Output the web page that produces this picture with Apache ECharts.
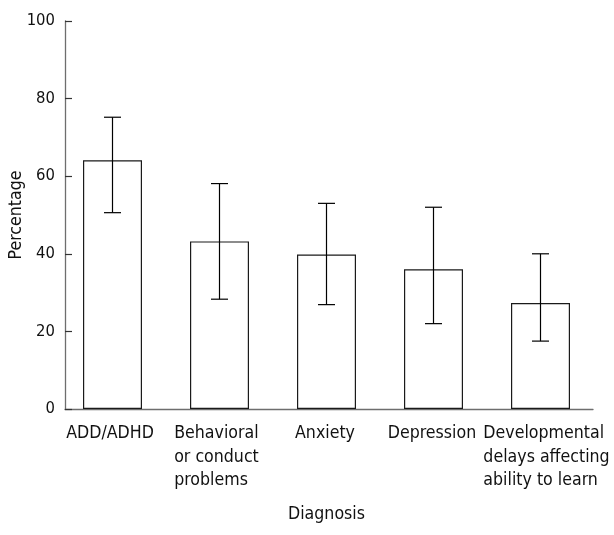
<!DOCTYPE html>
<html>
<head>
<meta charset="utf-8">
<script src="https://cdn.jsdelivr.net/npm/echarts@6/dist/echarts.min.js"></script>
<style>
html,body{margin:0;padding:0;background:#fff;}
#chart{width:614px;height:535px;}
</style>
</head>
<body>
<div id="chart"></div>
<script>
const categories = ['ADD/ADHD', 'Behavioral\nor conduct\nproblems', 'Anxiety', 'Depression', 'Developmental\ndelays affecting\nability to learn'];
const values = [64.1, 43.2, 39.8, 36.0, 27.3];
const errLow = [50.6, 28.3, 26.9, 22.0, 17.5];
const errHigh = [75.2, 58.1, 53.0, 52.0, 40.0];
const yMin = 0, yMax = 100, yInterval = 20;
const xName = 'Diagnosis';
const yName = 'Percentage';

const FONT = "'DejaVu Sans Condensed', 'DejaVu Sans', sans-serif";
const FS = 17.6;
const TXT = '#111';
// horizontal nudges of each category label block (style only)
const labelPad = [[0, 5, 0, 0], [0, 6, 0, 0], [0, 3, 0, 0], [0, 3, 0, 0], [0, 0, 0, 12]];

const chart = echarts.init(document.getElementById('chart'), null, {renderer: 'canvas'});
const errData = categories.map((c, i) => [i, errLow[i], errHigh[i]]);
const rich = {};
labelPad.forEach((p, i) => {
  rich['l' + i] = {align: 'left', fontFamily: FONT, fontSize: FS, lineHeight: 23.3, color: TXT, padding: p};
});

chart.setOption({
  animation: false,
  backgroundColor: '#fff',
  grid: [
    {left: 59, right: 20, top: 21, bottom: 126, outerBoundsMode: 'none', containLabel: false},
    {left: 65, right: 21, top: 21, bottom: 126, outerBoundsMode: 'none', containLabel: false}
  ],
  xAxis: [
    {
      type: 'category', gridIndex: 0, data: categories,
      axisLine: {show: false}, axisTick: {show: false},
      axisLabel: {
        margin: 13, color: TXT, fontFamily: FONT, fontSize: FS, lineHeight: 23.3,
        interval: 0,
        formatter: function (v, idx) { return v.split('\n').map(s => '{l' + idx + '|' + s + '}').join('\n'); },
        rich: rich
      },
      name: xName, nameLocation: 'middle', nameGap: 96, nameMoveOverlap: false,
      nameTextStyle: {color: TXT, fontFamily: FONT, fontSize: FS}
    },
    {
      type: 'value', gridIndex: 1, min: 0, max: 1,
      axisLine: {show: true, lineStyle: {color: '#6e6e6e', width: 1.3}},
      axisTick: {show: false}, axisLabel: {show: false}, splitLine: {show: false}
    }
  ],
  yAxis: [
    {
      type: 'value', gridIndex: 0, min: yMin, max: yMax, interval: yInterval,
      show: false, splitLine: {show: false}
    },
    {
      type: 'value', gridIndex: 1, min: yMin, max: yMax, interval: yInterval,
      axisLine: {show: true, lineStyle: {color: '#6e6e6e', width: 1.3}},
      axisTick: {show: true, inside: true, length: 7, lineStyle: {color: '#333', width: 1.2}},
      axisLabel: {margin: 10, color: TXT, fontFamily: FONT, fontSize: 16.5},
      splitLine: {show: false},
      name: yName, nameLocation: 'middle', nameGap: 40, nameMoveOverlap: false,
      nameTextStyle: {color: TXT, fontFamily: FONT, fontSize: FS}
    }
  ],
  series: [
    {
      type: 'bar', xAxisIndex: 0, yAxisIndex: 0, data: values, barWidth: 59,
      itemStyle: {color: '#fff', borderColor: '#1a1a1a', borderWidth: 1.2},
      silent: true
    },
    {
      type: 'custom', xAxisIndex: 0, yAxisIndex: 0, data: errData,
      encode: {x: 0, y: [1, 2]}, z: 5, silent: true,
      renderItem: function (params, api) {
        const x = api.value(0);
        const lo = api.coord([x, api.value(1)]);
        const hi = api.coord([x, api.value(2)]);
        const hw = 8.5;
        const st = {stroke: '#000', lineWidth: 1.2, fill: null};
        return {
          type: 'group',
          children: [
            {type: 'line', shape: {x1: hi[0], y1: hi[1], x2: lo[0], y2: lo[1]}, style: st},
            {type: 'line', shape: {x1: hi[0] - hw, y1: hi[1], x2: hi[0] + hw, y2: hi[1]}, style: st},
            {type: 'line', shape: {x1: lo[0] - hw, y1: lo[1], x2: lo[0] + hw, y2: lo[1]}, style: st}
          ]
        };
      }
    }
  ]
});
</script>
</body>
</html>
